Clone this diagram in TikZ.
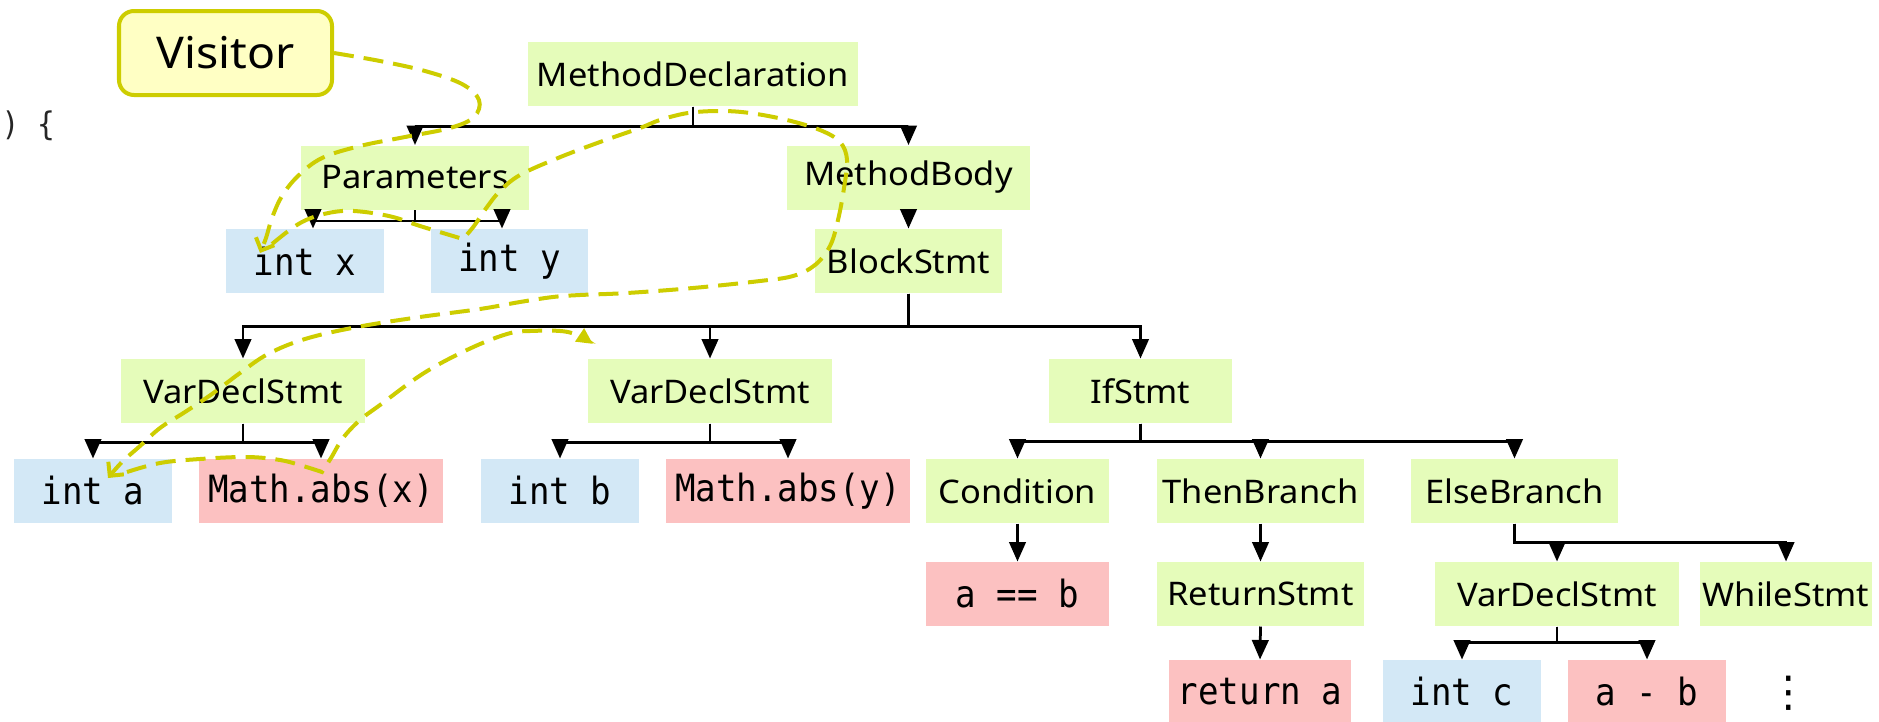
\documentclass[tikz,border=0pt]{standalone}
\usepackage{fontspec}
\usetikzlibrary{arrows.meta}
\newfontfamily\sansf[FakeStretch=1.06]{Noto Sans}
\newfontfamily\monof[FakeStretch=0.91]{DejaVu Sans Mono}
\newfontfamily\symf{DejaVu Sans}
\definecolor{gfill}{HTML}{E5FCBA}
\definecolor{bfill}{HTML}{D3E8F6}
\definecolor{rfill}{HTML}{FCC1C1}
\definecolor{visfill}{HTML}{FFFFC4}
\definecolor{visline}{HTML}{CDCD00}
\tikzset{
  box/.style={rectangle, inner sep=0pt, minimum height=25.6pt, text=black},
  gnode/.style={box, fill=gfill, font=\sansf\fontsize{13}{15}\selectfont},
  bnode/.style={box, fill=bfill, font=\monof\fontsize{15}{17}\selectfont},
  rnode/.style={box, fill=rfill, font=\monof\fontsize{15}{17}\selectfont},
  arr/.style={draw=black, line width=1.1pt, -{Triangle[length=7.8pt,width=6.6pt]}},
  walk/.style={draw=visline, line width=1.6pt, dash pattern=on 8pt off 4pt},
  barb/.style={-{Straight Barb[length=4pt,width=8pt]}},
  tri/.style={-{Triangle[length=6.5pt,width=6pt]}}
}
\begin{document}
\begin{tikzpicture}[x=0.4pt, y=-0.4pt]
\useasboundingbox (0,0) rectangle (1879,721);

% code fragment at the left edge
\node[anchor=west, inner sep=0pt, font=\monof\fontsize{13}{15}\selectfont, text=black!85] (code) at (1,126) {) \{};

% visitor
\node[draw=visline, fill=visfill, line width=1.6pt, rounded corners=6pt,
      minimum width=85.2pt, minimum height=33.6pt, inner sep=0pt,
      font=\sansf\fontsize{17.5}{20}\selectfont] (vis) at (225.5,53) {Visitor};

% tree nodes
\node[gnode, minimum width=132pt]  (md)  at (693,74)     {MethodDeclaration};
\node[gnode, minimum width=91.2pt] (par) at (415,177.5)  {Parameters};
\node[gnode, minimum width=97.2pt] (mb)  at (908.5,177.5){MethodBody};
\node[bnode, minimum width=63.2pt] (ix)  at (305,261)    {int x};
\node[bnode, minimum width=62.8pt] (iy)  at (509.5,261)  {int y};
\node[gnode, minimum width=74.8pt] (bs)  at (908.5,261)  {BlockStmt};

\node[gnode, minimum width=97.6pt] (vd1) at (243,391)    {VarDeclStmt};
\node[gnode, minimum width=97.6pt] (vd2) at (710,391)    {VarDeclStmt};
\node[gnode, minimum width=73.2pt] (ifs) at (1140.5,391) {IfStmt};

\node[bnode, minimum width=63.2pt] (ia)  at (93,491)     {int a};
\node[rnode, minimum width=97.6pt] (mx)  at (321,491)    {Math.abs(x)};
\node[bnode, minimum width=63.2pt] (ib)  at (560,491)    {int b};
\node[rnode, minimum width=97.6pt] (my)  at (788,491)    {Math.abs(y)};
\node[gnode, minimum width=73.2pt] (cond) at (1017.5,491){Condition};
\node[gnode, minimum width=82.8pt] (thn) at (1260.5,491) {ThenBranch};
\node[gnode, minimum width=82.8pt] (els) at (1514.5,491) {ElseBranch};

\node[rnode, minimum width=73.2pt] (aeq) at (1017.5,594) {a == b};
\node[gnode, minimum width=82.8pt] (ret) at (1260.5,594) {ReturnStmt};
\node[gnode, minimum width=97.6pt] (vd3) at (1557,594)   {VarDeclStmt};
\node[gnode, minimum width=68.8pt] (ws)  at (1786,594)   {WhileStmt};

\node[rnode, minimum width=72.8pt] (ra)  at (1260,692)   {return a};
\node[bnode, minimum width=63.2pt] (ic)  at (1462,692)   {int c};
\node[rnode, minimum width=63.2pt] (amb) at (1647,692)   {a - b};
\node[inner sep=0pt, font=\symf\fontsize{17}{17}\selectfont] (dots) at (1789,693) {⋮};

% tree connectors
\draw[arr] (md.south) -- ++(0,20) -| (par.north);
\draw[arr] (md.south) -- ++(0,20) -| (mb.north);
\draw[arr] (par.south) -- ++(0,11) -| ([xshift=3.2pt]ix.north);
\draw[arr] (par.south) -- ++(0,11) -| ([xshift=-3pt]iy.north);
\draw[arr] (mb.south) -- (bs.north);
\draw[arr] (bs.south) -- ++(0,33) -| (vd1.north);
\draw[arr] (bs.south) -- ++(0,33) -| (vd2.north);
\draw[arr] (bs.south) -- ++(0,33) -| (ifs.north);
\draw[arr] (vd1.south) -- ++(0,19) -| (ia.north);
\draw[arr] (vd1.south) -- ++(0,19) -| (mx.north);
\draw[arr] (vd2.south) -- ++(0,19) -| (ib.north);
\draw[arr] (vd2.south) -- ++(0,19) -| (my.north);
\draw[arr] (ifs.south) -- ++(0,18) -| (cond.north);
\draw[arr] (ifs.south) -- ++(0,18) -| (thn.north);
\draw[arr] (ifs.south) -- ++(0,18) -| (els.north);
\draw[arr] (cond.south) -- (aeq.north);
\draw[arr] (thn.south) -- (ret.north);
\draw[arr] (ret.south) -- (ra.north);
\draw[arr] (els.south) -- ++(0,19) -| (vd3.north);
\draw[arr] (els.south) -- ++(0,19) -| (ws.north);
\draw[arr] (vd3.south) -- ++(0,16) -| (ic.north);
\draw[arr] (vd3.south) -- ++(0,16) -| (amb.north);

% visitor walk
\coordinate (tx) at (260,253);
\coordinate (sx) at (272,244);
\coordinate (ta) at (108,478);
\coordinate (sa) at (127,472);
\coordinate (tv) at (593,344);

\draw[walk, barb] plot[smooth, tension=0.6] coordinates {
  (vis.east) (380,61) (425,71) (462,84) (479,100) (474,117) (450,128)
  (405,137) (360,146) (322,158) (298,176) (282,196) (272,218) (266,238) (tx)};

\draw[walk, barb] plot[smooth, tension=0.6] coordinates {
  (sx) (287,232) (302,222) (320,215) (342,211) (365,212) (393,217)
  (420,226) (463,239)}
  -- plot[smooth, tension=0.6] coordinates {
  (463,239) (474,226) (487,207) (500,191) (520,175) (558,158) (600,142)
  (640,128) (660,120) (688,113) (720,111) (750,113) (787,120) (820,130)
  (840,142) (847,160) (844,188) (838,220) (830,246) (815,265) (793,276)
  (760,281) (693,288) (627,293) (580,295) (553,297) (520,302) (480,309)
  (420,317) (357,327) (305,339) (268,354) (240,373) (212,394) (185,412)
  (160,428) (140,446) (122,462) (ta)};

\draw[walk, tri] plot[smooth, tension=0.6] coordinates {
  (sa) (160,463) (200,459) (247,457) (280,460) (303,466) (322,472)}
  -- plot[smooth, tension=0.6] coordinates {
  (322,472) (331,458) (343,438) (360,420) (380,405) (424,373) (469,349)
  (507,334) (530,331) (568,332) (tv)};
\end{tikzpicture}
\end{document}
